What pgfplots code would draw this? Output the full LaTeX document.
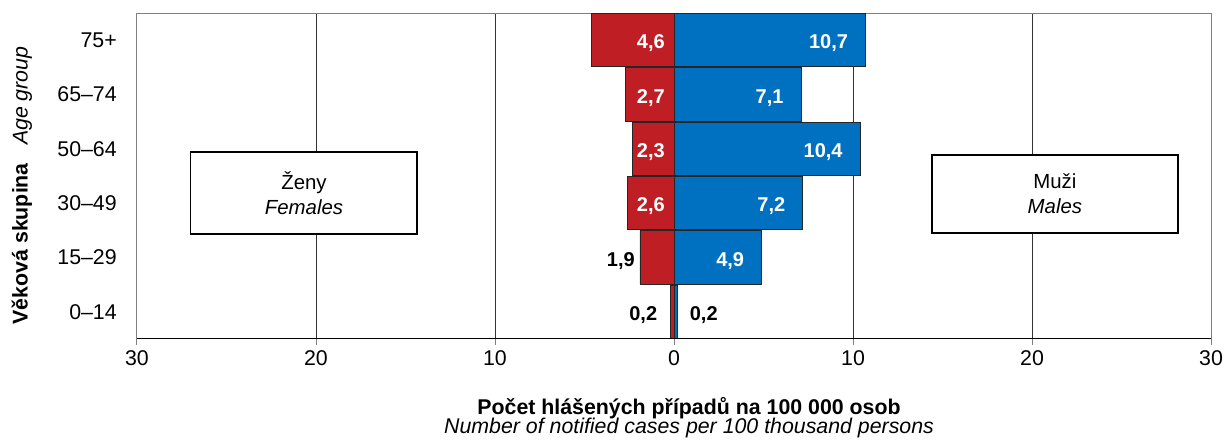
\documentclass[border=0pt]{standalone}
\usepackage{pgfplots}
\pgfplotsset{compat=1.18}
\usepackage{fontspec}
\setmainfont{Liberation Sans}
\definecolor{fred}{RGB}{190,30,36}
\definecolor{mblue}{RGB}{0,112,192}
\begin{document}
\begin{tikzpicture}[font=\fontsize{16}{18}\selectfont]
\begin{axis}[
  name=ax, scale only axis, width=805.5pt, height=244.5pt,
  xmin=-30, xmax=30, ymin=-0.5, ymax=5.5,
  xtick={-30,-20,-10,0,10,20,30},
  xticklabels={30,20,10,0,10,20,30},
  ytick={0,1,2,3,4,5},
  yticklabels={0–14,15–29,30–49,50–64,65–74,75+},
  xmajorgrids, grid style={black!80, line width=0.75pt},
  axis line style={gray, line width=0.75pt},
  xtick pos=lower, ytick pos=left,
  ytick style={draw=none},
  tick align=outside, major tick length=4.5pt,
  xtick style={gray, line width=0.75pt},
  yticklabel style={inner sep=0pt, xshift=-10.5pt},
  xticklabel style={inner sep=0pt, yshift=-4pt},
  clip=false,
  xbar, bar shift=0pt, bar width=0.98,
  /pgf/number format/assume math mode=true,
  xlabel={\textbf{Počet hlášených případů na 100 000 osob}\\[-3.25pt]\textit{Number of notified cases per 100 thousand persons}},
  xlabel style={align=center, at={(axis description cs:0.514,0)}, anchor=north, yshift=-40.25pt, font=\fontsize{16}{17.5}\selectfont},
  ylabel={\textbf{Věková skupina}\hspace{13.5pt}\textit{Age group}},
  ylabel style={at={(axis description cs:-0.1071,0.471)}, anchor=center, inner sep=0pt},
]
\addplot[fill=fred, draw=black!85, line width=0.6pt] coordinates {(-0.2,0) (-1.9,1) (-2.6,2) (-2.3,3) (-2.7,4) (-4.6,5)};
\addplot[fill=mblue, draw=black!85, line width=0.6pt] coordinates {(0.2,0) (4.9,1) (7.2,2) (10.4,3) (7.1,4) (10.7,5)};
\draw[black, line width=0.75pt] (rel axis cs:0,0) -- (rel axis cs:1,0);
% gender boxes
\draw[line width=1.1pt, fill=white] (axis cs:-27,1.43) rectangle (axis cs:-14.36,2.94);
\node[align=center, font=\fontsize{15.3}{18.75}\selectfont] at (axis cs:-20.67,2.187) {Ženy\\\textit{Females}};
\draw[line width=1.1pt, fill=white] (axis cs:14.41,1.45) rectangle (axis cs:28.16,2.89);
\node[align=center, font=\fontsize{15.3}{18.75}\selectfont] at (axis cs:21.28,2.169) {Muži\\\textit{Males}};
% data labels
\begin{scope}[every node/.style={inner sep=0pt, yshift=-2.5pt, font=\fontsize{15}{18}\bfseries}]
\node[anchor=east, text=white, xshift=-6.75pt] at (axis cs:0,5) {4,6};
\node[anchor=east, text=white, xshift=-6.75pt] at (axis cs:0,4) {2,7};
\node[anchor=east, text=white, xshift=-6.75pt] at (axis cs:0,3) {2,3};
\node[anchor=east, text=white, xshift=-6.75pt] at (axis cs:0,2) {2,6};
\node[anchor=east, text=black, xshift=-3.75pt] at (axis cs:-1.9,1) {1,9};
\node[anchor=east, text=black, xshift=-9.75pt] at (axis cs:-0.2,0) {0,2};
\node[anchor=east, text=white, xshift=-13pt] at (axis cs:10.7,5) {10,7};
\node[anchor=east, text=white, xshift=-13pt] at (axis cs:7.1,4) {7,1};
\node[anchor=east, text=white, xshift=-13pt] at (axis cs:10.4,3) {10,4};
\node[anchor=east, text=white, xshift=-13pt] at (axis cs:7.2,2) {7,2};
\node[anchor=east, text=white, xshift=-13pt] at (axis cs:4.9,1) {4,9};
\node[anchor=west, text=black, xshift=9pt] at (axis cs:0.2,0) {0,2};
\end{scope}
\coordinate (bl) at (rel axis cs:0,0);
\coordinate (tr) at (rel axis cs:1,1);
\end{axis}
\pgfresetboundingbox
\path (bl) ++(-102.75pt,-76.5pt);
\path (tr) ++(9.75pt,9.75pt);
\end{tikzpicture}
\end{document}
